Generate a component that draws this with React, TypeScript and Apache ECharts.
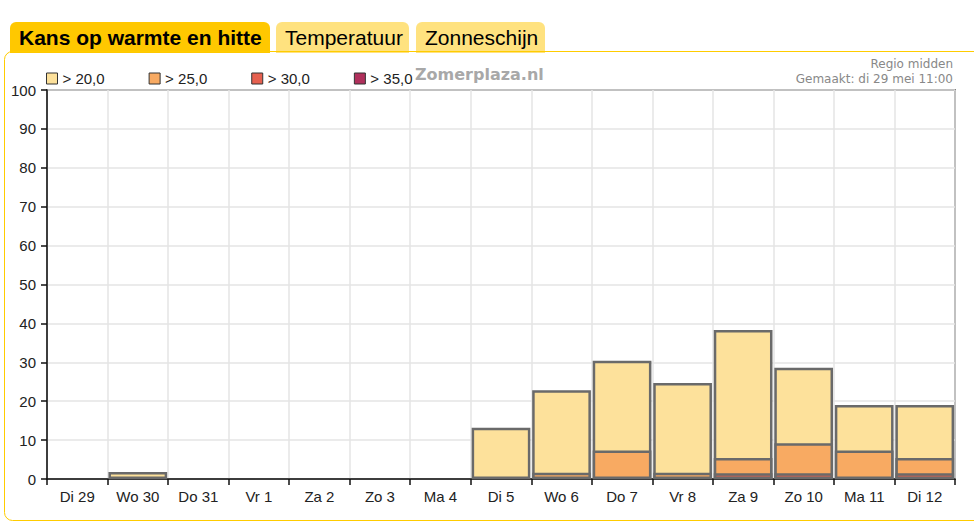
import React, { useEffect, useRef } from "react";
import * as echarts from "echarts";

const categories = ["Di 29", "Wo 30", "Do 31", "Vr 1", "Za 2", "Zo 3", "Ma 4", "Di 5", "Wo 6", "Do 7", "Vr 8", "Za 9", "Zo 10", "Ma 11", "Di 12"];
const over20 = [0, 1.8, 0, 0, 0, 0, 0, 13.2, 22.8, 30.4, 24.7, 38.3, 28.6, 19.0, 19.0];
const over25 = [0, 0, 0, 0, 0, 0, 0, 0, 1.6, 7.3, 1.6, 5.4, 9.2, 7.3, 5.4];
const over30 = [0, 0, 0, 0, 0, 0, 0, 0, 0, 0, 0, 1.5, 1.5, 0, 1.5];
const over35 = [0, 0, 0, 0, 0, 0, 0, 0, 0, 0, 0, 0, 0, 0, 0];
const seriesNames = ["> 20,0", "> 25,0", "> 30,0", "> 35,0"];
const seriesColors = ["#FDE19B", "#F8AA62", "#E6604F", "#B0305C"];
const yTicks = [0, 10, 20, 30, 40, 50, 60, 70, 80, 90, 100];
const tabs = ["Kans op warmte en hitte", "Temperatuur", "Zonneschijn"];

const FONT = "'Liberation Sans', Arial, sans-serif";

export default function App() {
  const ref = useRef<HTMLDivElement>(null);
  useEffect(() => {
    document.body.style.margin = "0";
    const chart = echarts.init(ref.current!, null, { renderer: "svg" });
    const all = [over20, over25, over30, over35];
    const tabBoxes = [
      { x: 10, w: 260 },
      { x: 276, w: 133 },
      { x: 416, w: 129 },
    ];
    chart.setOption({
      animation: false,
      backgroundColor: "#ffffff",
      textStyle: { fontFamily: FONT },
      grid: {
        left: 47,
        top: 90,
        right: 19,
        bottom: 49,
        show: true,
        borderColor: "#222",
        borderWidth: 1.5,
        containLabel: false,
      },
      legend: {
        left: 41,
        top: 66,
        icon: "rect",
        itemWidth: 11,
        itemHeight: 11,
        itemGap: 44,
        itemStyle: { borderColor: "#333", borderWidth: 1 },
        textStyle: { fontSize: 15, color: "#222", fontFamily: FONT },
        data: seriesNames,
      },
      xAxis: {
        type: "category",
        data: categories,
        boundaryGap: true,
        axisLine: { lineStyle: { color: "#111", width: 1.5 } },
        axisTick: { show: true, length: 6, lineStyle: { color: "#111", width: 1.5 } },
        axisLabel: { fontSize: 15, color: "#222", margin: 10, fontFamily: FONT },
        splitLine: { show: true, lineStyle: { color: "#e4e4e4", width: 1.5 } },
      },
      yAxis: {
        type: "value",
        min: yTicks[0],
        max: yTicks[yTicks.length - 1],
        interval: 10,
        axisLine: { show: true, lineStyle: { color: "#111", width: 1.5 } },
        axisTick: { show: true, length: 6, lineStyle: { color: "#111", width: 1.5 } },
        axisLabel: { fontSize: 15, color: "#222", margin: 11, fontFamily: FONT },
        splitLine: { show: true, lineStyle: { color: "#e4e4e4", width: 1.5 } },
      },
      series: all.map((vals, i) => ({
        name: seriesNames[i],
        type: "bar",
        data: vals.map((v) => (v > 0 ? v : "-")),
        barGap: "-100%",
        barCategoryGap: "3%",
        z: 2 + i,
        itemStyle: {
          color: seriesColors[i],
          borderColor: "#6a6a6a",
          borderWidth: 2.5,
        },
        emphasis: { disabled: true },
      })),
      graphic: [
        ...tabs.map((t, i) => ({
          type: "group",
          children: [
            {
              type: "rect",
              shape: { x: tabBoxes[i].x, y: 22, width: tabBoxes[i].w, height: 31, r: [6, 6, 0, 0] },
              style: { fill: i === 0 ? "#FFC800" : "#FFE27F" },
            },
            {
              type: "text",
              x: tabBoxes[i].x + 9,
              y: 37,
              style: {
                text: t,
                font: (i === 0 ? "bold " : "") + "21px " + FONT,
                fill: "#000",
                verticalAlign: "middle",
              },
            },
          ],
        })),
        {
          type: "rect",
          shape: { x: 4.5, y: 51.5, width: 985, height: 469, r: 8 },
          style: { fill: "none", stroke: "#FFCC00", lineWidth: 1 },
          z: 0,
        },
        {
          type: "text",
          x: 415,
          y: 74,
          style: {
            text: "Zomerplaza.nl",
            font: "bold 16px 'DejaVu Sans', Verdana, sans-serif",
            fill: "#a8a8a8",
            verticalAlign: "middle",
          },
        },
        {
          type: "text",
          x: 953,
          y: 64,
          style: {
            text: "Regio midden",
            font: "12px 'DejaVu Sans', Tahoma, sans-serif",
            fill: "#888",
            align: "right",
            verticalAlign: "middle",
          },
        },
        {
          type: "text",
          x: 953,
          y: 79,
          style: {
            text: "Gemaakt: di 29 mei 11:00",
            font: "12px 'DejaVu Sans', Tahoma, sans-serif",
            fill: "#888",
            align: "right",
            verticalAlign: "middle",
          },
        },
      ],
    });
    return () => chart.dispose();
  }, []);
  return <div ref={ref} style={{ width: 974, height: 528 }} />;
}
